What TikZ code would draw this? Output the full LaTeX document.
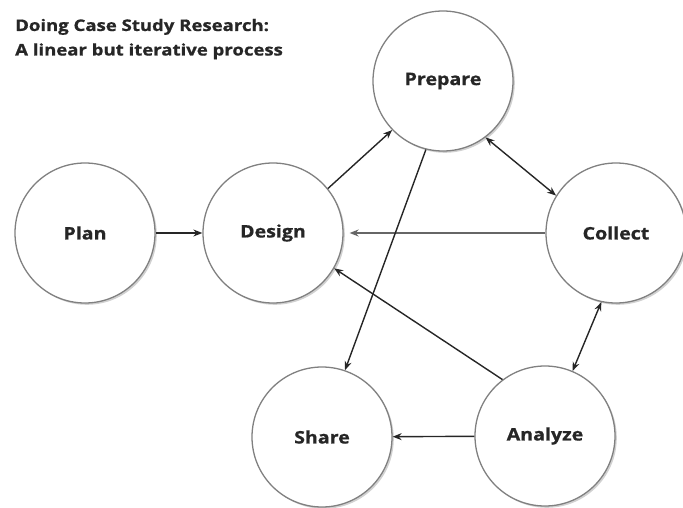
\documentclass[tikz,border=0pt]{standalone}
\usepackage{fontspec}
\setmainfont{Open Sans}[BoldFeatures={FakeBold=0.8}]
\usepackage{graphicx}
\usetikzlibrary{arrows.meta,shadows}
\newcommand{\wide}[1]{\scalebox{1.14}[1]{#1}}
\newcommand{\widet}[1]{\scalebox{1.16}[1]{#1}}
\tikzset{
  stage/.style={circle, draw=black!50, line width=1.3pt, fill=white, minimum size=140pt, inner sep=0pt,
    font=\fontsize{17.2}{19}\selectfont\bfseries, text=black!85,
    drop shadow={shadow xshift=1.8pt, shadow yshift=-1.8pt, fill=black!30, opacity=0.6}},
  conn/.style={line width=1.4pt, draw=black!85, -{Stealth[length=9pt,width=7pt]}},
  biconn/.style={line width=1.4pt, draw=black!85, {Stealth[length=9pt,width=7pt]}-{Stealth[length=9pt,width=7pt]}},
  title/.style={anchor=base west, inner sep=0pt, font=\fontsize{16}{18}\selectfont\bfseries, text=black!85}
}
\begin{document}
\begin{tikzpicture}[x=1pt,y=1pt]
\useasboundingbox (0,0) rectangle (683,507);
\node[title] (t1) at (15,476) {\widet{Doing Case Study Research:}};
\node[title] (t2) at (15,451.5) {\widet{A linear but iterative process}};
\node[stage] (plan) at (85,274) {\wide{Plan}};
\node[stage] (design) at (273,274) {\wide{Design}};
\node[stage] (prepare) at (443,426) {\wide{Prepare}};
\node[stage] (collect) at (616,274) {\wide{Collect}};
\node[stage] (share) at (322,70) {\wide{Share}};
\node[stage] (analyze) at (545,71) {\wide{Analyze}};
\draw[conn] (plan) -- (design);
\draw[conn] (design.39) -- (prepare.224);
\draw[biconn] (prepare.-53) -- (collect.148);
\draw[conn, line width=2.8pt, draw=black!60, shorten >=6pt] (collect) -- (design);
\draw[conn] (prepare.256) -- (share.71);
\draw[conn] (analyze.127) -- (design.-30);
\draw[biconn] (collect.258) -- (analyze.67);
\draw[conn] (analyze) -- (share);
\end{tikzpicture}
\end{document}
